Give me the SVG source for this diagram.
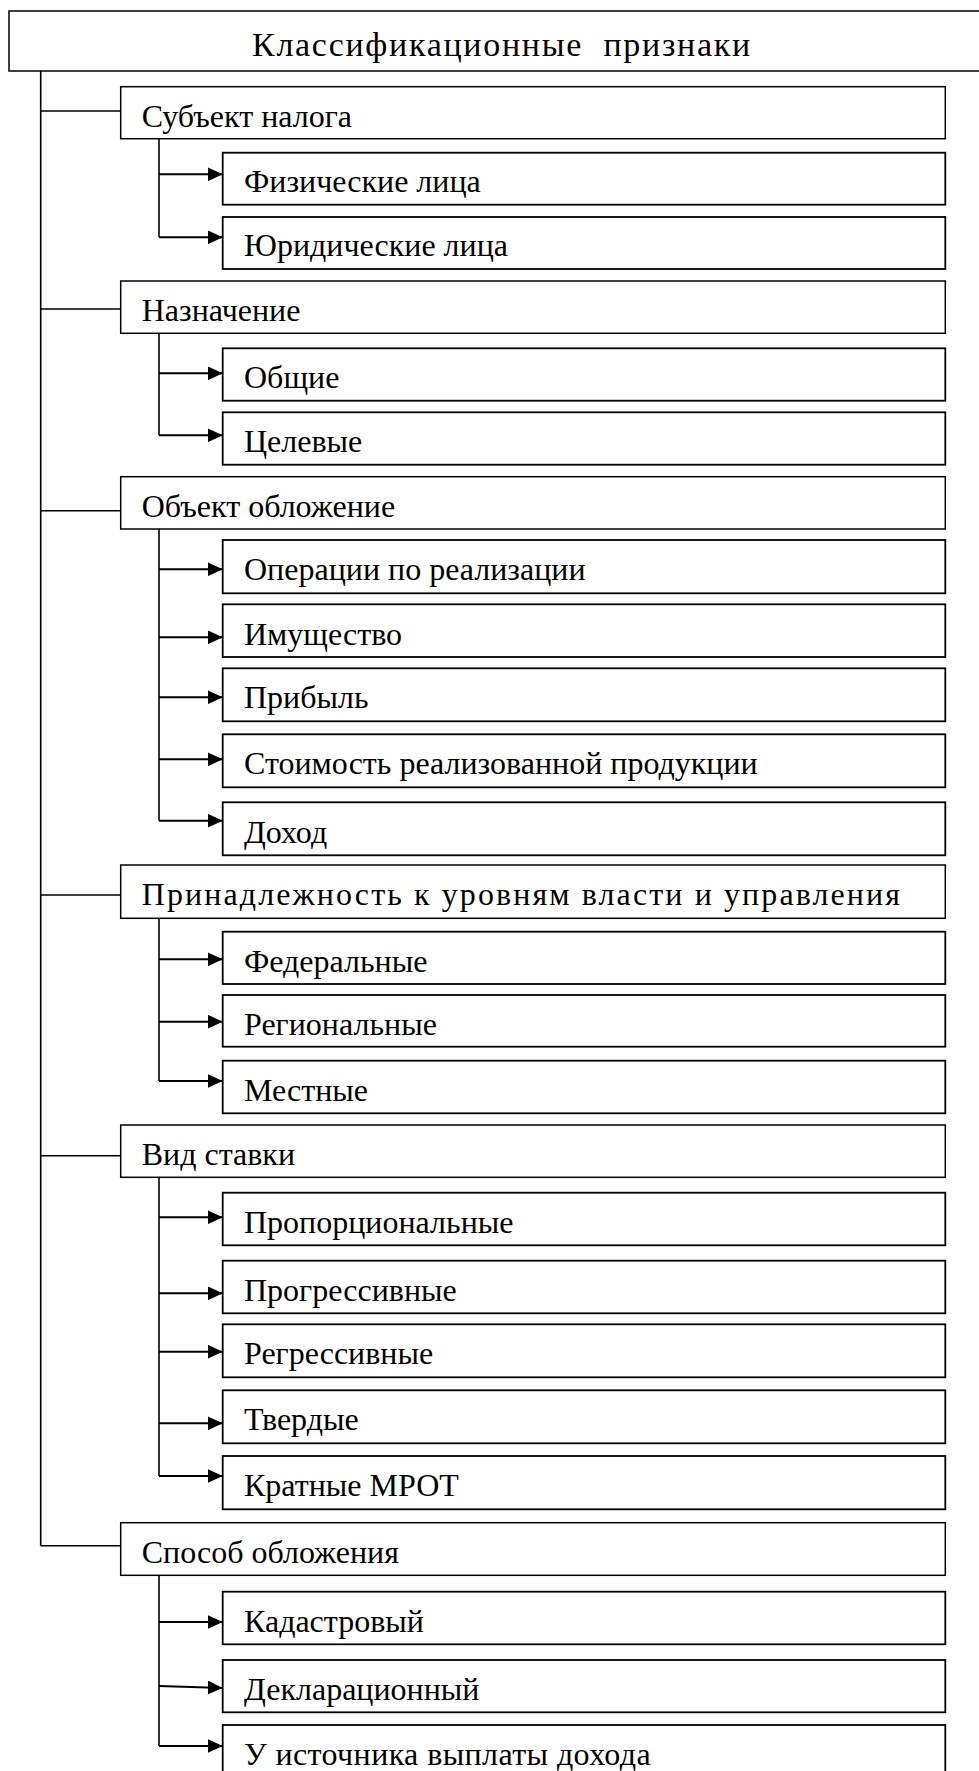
<svg xmlns="http://www.w3.org/2000/svg" width="979" height="1771" viewBox="0 0 979 1771">
<style>
.bg{fill:#ffffff}
.main{fill:#ffffff;stroke:#000;stroke-width:1.5}
.sub{fill:#ffffff;stroke:#000;stroke-width:1.8}
.t{font-family:"Liberation Serif","Times New Roman",serif;font-size:32px;fill:#000}
.title{font-size:34px;letter-spacing:1.7px}
.wide{letter-spacing:2.1px}
.trunk{fill:none;stroke:#000;stroke-width:1.6}
.arr{fill:none;stroke:#000;stroke-width:2;marker-end:url(#ah)}
</style>
<defs>
<marker id="ah" viewBox="0 0 15 14" refX="15" refY="7" markerWidth="15" markerHeight="14" markerUnits="userSpaceOnUse" orient="auto">
<path d="M0,0 L15,7 L0,14 Z" fill="#000"/>
</marker>
</defs>
<rect class="bg" x="0" y="0" width="979" height="1771"/>

<g id="connectors">
<path class="trunk" d="M40.7,71 V1545.7 M40.7,111 H120.7 M40.7,309 H120.7 M40.7,510.7 H120.7 M40.7,895 H120.7 M40.7,1155.7 H120.7 M40.7,1545.7 H120.7"/>
<path class="trunk" d="M159,138.7 V237.3 M159,333.3 V435.3 M159,529 V820.7 M159,918.3 V1081 M159,1177.3 V1476 M159,1575.3 V1746"/>
<line class="arr" x1="159" y1="174.3" x2="222.7" y2="174.3"/>
<line class="arr" x1="159" y1="237.3" x2="222.7" y2="237.3"/>
<line class="arr" x1="159" y1="373.3" x2="222.7" y2="373.3"/>
<line class="arr" x1="159" y1="435.3" x2="222.7" y2="435.3"/>
<line class="arr" x1="159" y1="569.3" x2="222.7" y2="569.3"/>
<line class="arr" x1="159" y1="637.3" x2="222.7" y2="637.3"/>
<line class="arr" x1="159" y1="697.3" x2="222.7" y2="697.3"/>
<line class="arr" x1="159" y1="759.3" x2="222.7" y2="759.3"/>
<line class="arr" x1="159" y1="820.7" x2="222.7" y2="820.7"/>
<line class="arr" x1="159" y1="959.3" x2="222.7" y2="959.3"/>
<line class="arr" x1="159" y1="1021.7" x2="222.7" y2="1021.7"/>
<line class="arr" x1="159" y1="1081" x2="222.7" y2="1081"/>
<line class="arr" x1="159" y1="1217.3" x2="222.7" y2="1217.3"/>
<line class="arr" x1="159" y1="1293.3" x2="222.7" y2="1293.3"/>
<line class="arr" x1="159" y1="1351.7" x2="222.7" y2="1351.7"/>
<line class="arr" x1="159" y1="1423.3" x2="222.7" y2="1423.3"/>
<line class="arr" x1="159" y1="1476" x2="222.7" y2="1476"/>
<line class="arr" x1="159" y1="1622" x2="222.7" y2="1622"/>
<line class="arr" x1="159" y1="1686" x2="222.7" y2="1688"/>
<line class="arr" x1="159" y1="1746" x2="222.7" y2="1746"/>
</g>

<g id="n-title"><rect class="main" x="9" y="11" width="990" height="60"/><text class="t title" x="252" y="56" xml:space="preserve">Классификационные  признаки</text></g>

<g id="n-subject"><rect class="main" x="120.7" y="86.7" width="824.6" height="52"/><text class="t" x="141.7" y="126.7">Субъект налога</text></g>
<g id="n-phys"><rect class="sub" x="222.7" y="152.7" width="722.6" height="52"/><text class="t" x="244" y="191.5">Физические лица</text></g>
<g id="n-jur"><rect class="sub" x="222.7" y="217" width="722.6" height="52"/><text class="t" x="244" y="256">Юридические лица</text></g>

<g id="n-purpose"><rect class="main" x="120.7" y="281" width="824.6" height="52.3"/><text class="t" x="141.7" y="320.5">Назначение</text></g>
<g id="n-general"><rect class="sub" x="222.7" y="348.3" width="722.6" height="52.4"/><text class="t" x="244" y="388.3">Общие</text></g>
<g id="n-target"><rect class="sub" x="222.7" y="412.3" width="722.6" height="52.4"/><text class="t" x="244" y="452">Целевые</text></g>

<g id="n-object"><rect class="main" x="120.7" y="476.7" width="824.6" height="52.3"/><text class="t" x="141.7" y="516.7">Объект обложение</text></g>
<g id="n-oper"><rect class="sub" x="222.7" y="540" width="722.6" height="53.3"/><text class="t" x="244" y="580">Операции по реализации</text></g>
<g id="n-prop"><rect class="sub" x="222.7" y="604.3" width="722.6" height="52.7"/><text class="t" x="244" y="644.5">Имущество</text></g>
<g id="n-profit"><rect class="sub" x="222.7" y="668.3" width="722.6" height="53"/><text class="t" x="244" y="708.3">Прибыль</text></g>
<g id="n-cost"><rect class="sub" x="222.7" y="734.3" width="722.6" height="53"/><text class="t" x="244" y="774">Стоимость реализованной продукции</text></g>
<g id="n-income"><rect class="sub" x="222.7" y="802.3" width="722.6" height="53"/><text class="t" x="244" y="842.5">Доход</text></g>

<g id="n-level"><rect class="main" x="120.7" y="865" width="824.6" height="53.3"/><text class="t wide" x="141.7" y="905">Принадлежность к уровням власти и управления</text></g>
<g id="n-fed"><rect class="sub" x="222.7" y="931.7" width="722.6" height="52.3"/><text class="t" x="244" y="971.5">Федеральные</text></g>
<g id="n-reg"><rect class="sub" x="222.7" y="995" width="722.6" height="51.7"/><text class="t" x="244" y="1034.5">Региональные</text></g>
<g id="n-local"><rect class="sub" x="222.7" y="1060.7" width="722.6" height="52.6"/><text class="t" x="244" y="1100.5">Местные</text></g>

<g id="n-rate"><rect class="main" x="120.7" y="1125" width="824.6" height="52.3"/><text class="t" x="141.7" y="1165">Вид ставки</text></g>
<g id="n-propor"><rect class="sub" x="222.7" y="1192.7" width="722.6" height="52.6"/><text class="t" x="244" y="1232.5">Пропорциональные</text></g>
<g id="n-progr"><rect class="sub" x="222.7" y="1260.7" width="722.6" height="52.6"/><text class="t" x="244" y="1300.5">Прогрессивные</text></g>
<g id="n-regr"><rect class="sub" x="222.7" y="1324.3" width="722.6" height="53"/><text class="t" x="244" y="1364">Регрессивные</text></g>
<g id="n-fixed"><rect class="sub" x="222.7" y="1390.3" width="722.6" height="53"/><text class="t" x="244" y="1430">Твердые</text></g>
<g id="n-mrot"><rect class="sub" x="222.7" y="1456" width="722.6" height="53.3"/><text class="t" x="244" y="1495.5">Кратные МРОТ</text></g>

<g id="n-method"><rect class="main" x="120.7" y="1522.7" width="824.6" height="52.6"/><text class="t" x="141.7" y="1562.5">Способ обложения</text></g>
<g id="n-cad"><rect class="sub" x="222.7" y="1591.7" width="722.6" height="52.6"/><text class="t" x="244" y="1631.5">Кадастровый</text></g>
<g id="n-decl"><rect class="sub" x="222.7" y="1660" width="722.6" height="52.3"/><text class="t" x="244" y="1699.5">Декларационный</text></g>
<g id="n-source"><rect class="sub" x="222.7" y="1725" width="722.6" height="55"/><text class="t" x="244" y="1764.5" style="letter-spacing:0.4px">У источника выплаты дохода</text></g>
</svg>
